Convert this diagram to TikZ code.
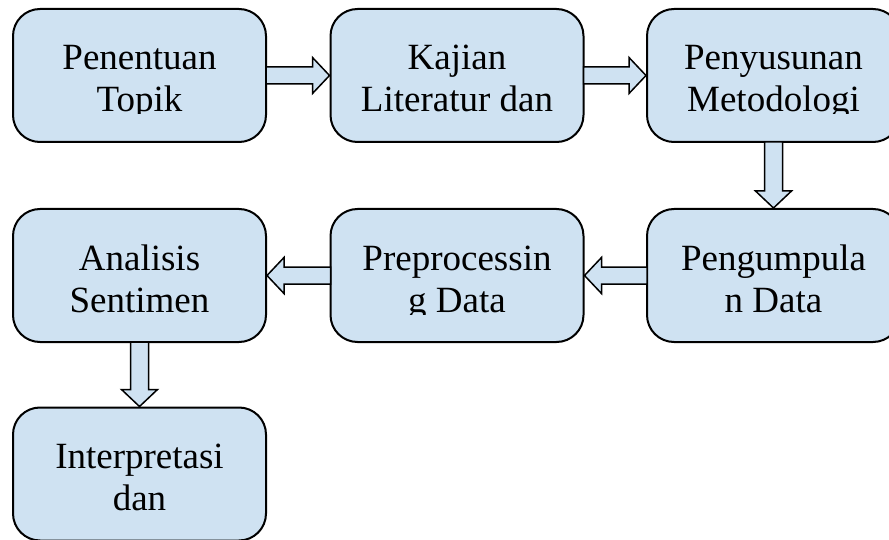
\documentclass[tikz,border=0pt]{standalone}
\usepackage{fontspec}
\setmainfont{Liberation Serif}
\usepackage{tikz}
\usetikzlibrary{positioning, calc}

\definecolor{boxblue}{RGB}{207,226,242}

\tikzset{
  flowbox/.style={draw, line width=2pt, fill=boxblue, rounded corners=27pt, minimum width=253pt, minimum height=133pt, inner sep=0pt},
  flowtext/.style={align=center, font=\fontsize{37}{42}\selectfont, inner sep=0pt, anchor=base},
  blockarrow/.style={draw, line width=1.5pt, fill=boxblue, line join=miter}
}

\begin{document}
\begin{tikzpicture}[x=1pt, y=1pt]
  \useasboundingbox (0,0) rectangle (889,-540);
  % boxes
  \node[flowbox] (topik) at (139.5,-75.5) {};
  \node[flowbox] (kajian) at (457,-75.5) {};
  \node[flowbox] (metodologi) at (773.5,-75.5) {};
  \node[flowbox] (pengumpulan) at (773.5,-275.5) {};
  \node[flowbox] (preprocessing) at (457,-275.5) {};
  \node[flowbox] (analisis) at (139.5,-275.5) {};
  \node[flowbox] (interpretasi) at (139.5,-474) {};
  % texts, cut off below the second line
  \foreach \boxname/\boxtext in {topik/{Penentuan\\Topik}, kajian/{Kajian\\Literatur dan},
      metodologi/{Penyusunan\\Metodologi}, pengumpulan/{Pengumpula\\n Data},
      preprocessing/{Preprocessin\\g Data}, analisis/{Analisis\\Sentimen},
      interpretasi/{Interpretasi\\dan}} {
    \begin{scope}
      \clip (\boxname.north west) rectangle ([yshift=-106pt]\boxname.north east);
      \node[flowtext] (\boxname-text) at ([yshift=-104pt]\boxname.north) {\boxtext};
    \end{scope}
  }
  % arrows to the right
  \foreach \from/\to in {topik/kajian, kajian/metodologi}
    \draw[blockarrow] ([xshift=-1pt,yshift=8.5pt]\from.east) -- ([xshift=-17pt,yshift=8.5pt]\to.west)
      -- ([xshift=-17pt,yshift=18pt]\to.west) -- (\to.west) -- ([xshift=-17pt,yshift=-18pt]\to.west)
      -- ([xshift=-17pt,yshift=-8.5pt]\to.west) -- ([xshift=-1pt,yshift=-8.5pt]\from.east) -- cycle;
  % arrows to the left
  \foreach \from/\to in {pengumpulan/preprocessing, preprocessing/analisis}
    \draw[blockarrow] ([xshift=1pt,yshift=8.5pt]\from.west) -- ([xshift=17pt,yshift=8.5pt]\to.east)
      -- ([xshift=17pt,yshift=18pt]\to.east) -- (\to.east) -- ([xshift=17pt,yshift=-18pt]\to.east)
      -- ([xshift=17pt,yshift=-8.5pt]\to.east) -- ([xshift=1pt,yshift=-8.5pt]\from.west) -- cycle;
  % arrows down
  \foreach \from/\to in {metodologi/pengumpulan, analisis/interpretasi}
    \draw[blockarrow] ([xshift=-9pt,yshift=1pt]\from.south) -- ([xshift=-9pt,yshift=17pt]\to.north)
      -- ([xshift=-18pt,yshift=17pt]\to.north) -- (\to.north) -- ([xshift=18pt,yshift=17pt]\to.north)
      -- ([xshift=9pt,yshift=17pt]\to.north) -- ([xshift=9pt,yshift=1pt]\from.south) -- cycle;
\end{tikzpicture}
\end{document}
